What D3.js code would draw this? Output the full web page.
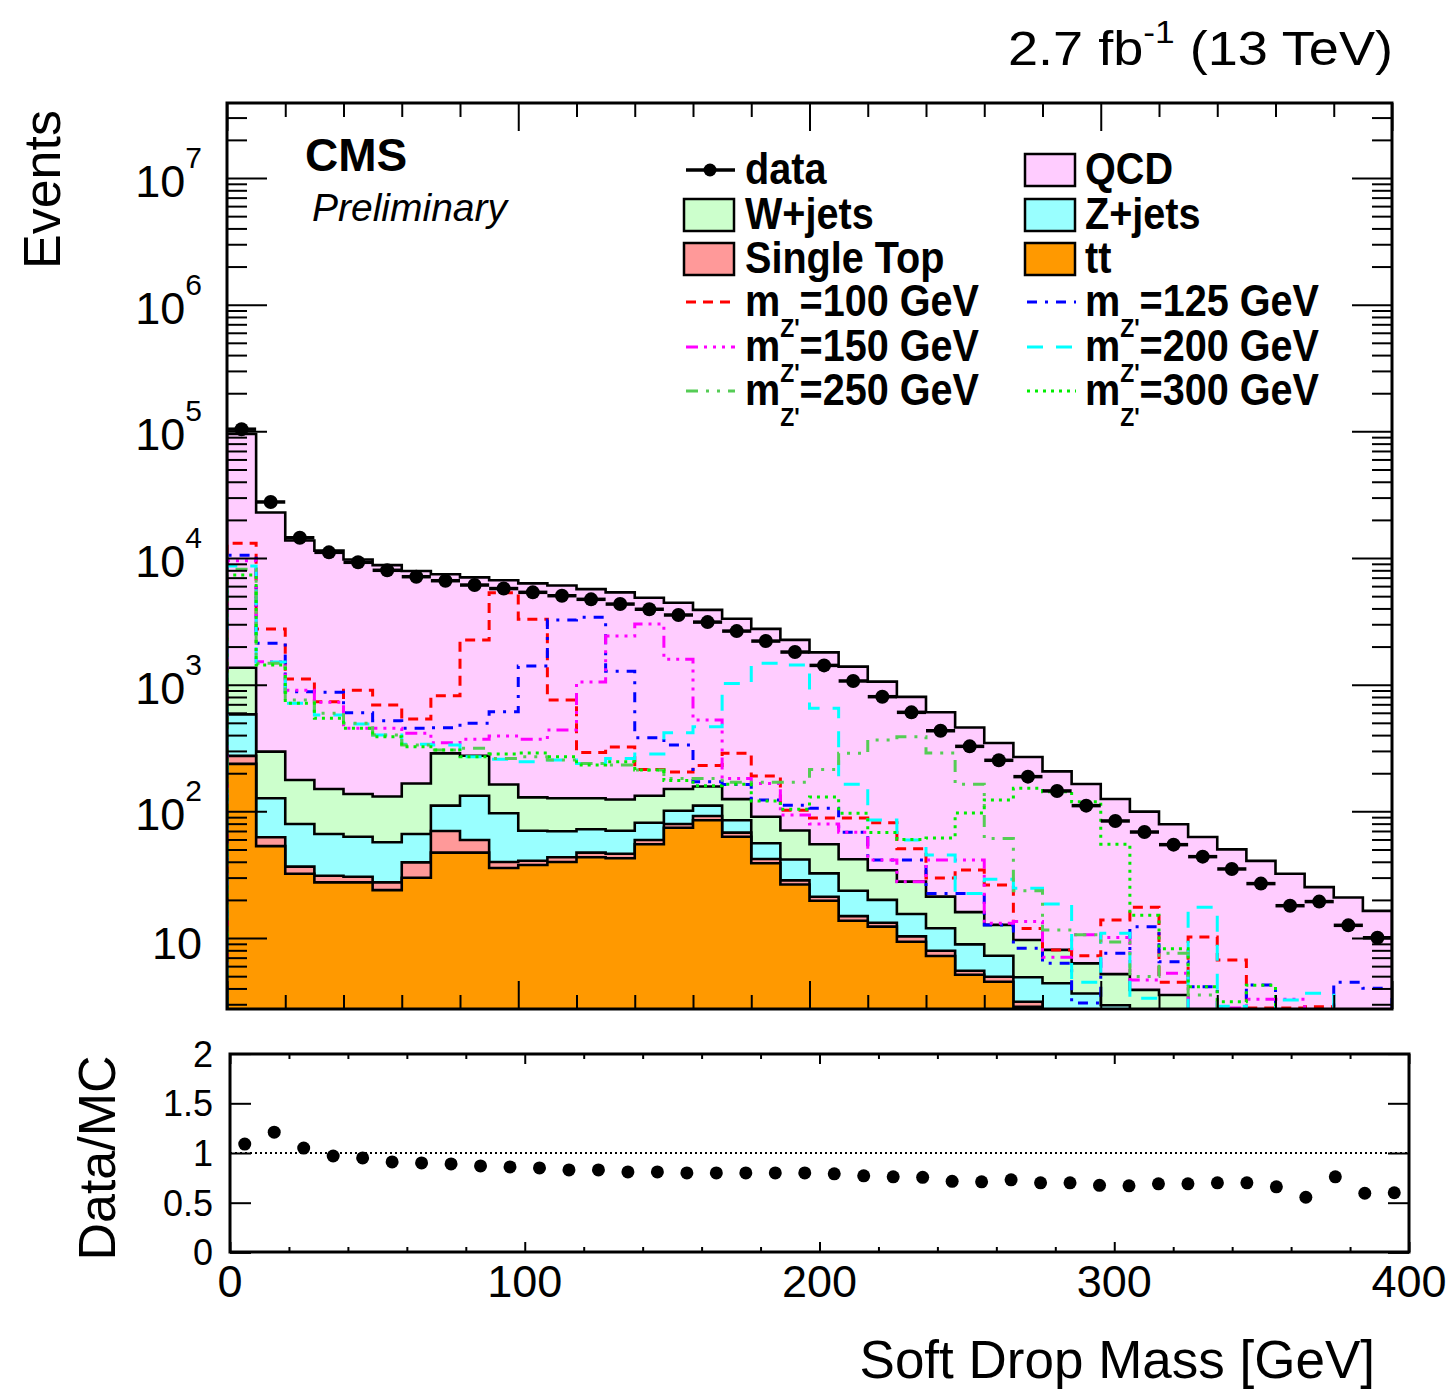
<!DOCTYPE html>
<html>
<head>
<meta charset="utf-8">
<script src="https://cdn.jsdelivr.net/npm/d3@7"></script>
<style>
  body { margin: 0; background: #fff; }
  text { font-family: "Liberation Sans", Arial, Helvetica, sans-serif; fill: #000; }
</style>
</head>
<body>
<div id="chart"></div>
<script>
// soft drop mass bins, lower edges [GeV]
var massBins = [0, 10, 20, 30, 40, 50, 60, 70, 80, 90, 100, 110, 120, 130, 140, 150, 160, 170, 180, 190,
  200, 210, 220, 230, 240, 250, 260, 270, 280, 290, 300, 310, 320, 330, 340, 350, 360, 370, 380, 390];
var binWidth = 10;

var dataCounts = [104000, 27700, 14450, 11090, 9250, 8000, 7120, 6620, 6120, 5740,
  5360, 5040, 4720, 4330, 3940, 3550, 3120, 2650, 2210, 1810,
  1420, 1070, 804, 605, 433, 326, 253, 188, 145, 111,
  84, 68.7, 54.6, 43.9, 35.1, 26.9, 18.0, 19.4, 12.6, 10.05];

var ratioValues = [1.09, 1.21, 1.05, 0.97, 0.95, 0.91, 0.90, 0.89, 0.87, 0.86,
  0.85, 0.83, 0.83, 0.81, 0.81, 0.80, 0.80, 0.80, 0.80, 0.80,
  0.79, 0.77, 0.76, 0.755, 0.715, 0.71, 0.73, 0.70, 0.70, 0.675,
  0.67, 0.69, 0.69, 0.70, 0.70, 0.66, 0.555, 0.76, 0.595, 0.60];

// backgrounds (per process, stacked below)
var ttbar = [237, 53.2, 32.2, 27.5, 27.5, 23.9, 29.9, 47.2, 47.2, 35.7,
  37.7, 39.8, 43.4, 42.6, 55.0, 74.3, 85.0, 63.1, 38.9, 26.5,
  19.7, 13.7, 12.3, 9.35, 7.21, 5.13, 4.52, 2.87, 1.6, 1.2,
  1.0, 0.8, 0.7, 0.6, 0.5, 0.4, 0.35, 0.3, 0.25, 0.2];
var singleTop = [37, 9.2, 4.4, 3.5, 3.0, 3.6, 9.7, 22.8, 12.2, 4.1,
  3.1, 3.6, 3.8, 3.7, 4.4, 5.2, 6.9, 4.8, 3.2, 2.0,
  1.5, 1.2, 0.9, 0.95, 0.73, 0.39, 0.43, 0.27, 0.2, 0.15,
  0.15, 0.1, 0.1, 0.1, 0.08, 0.08, 0.06, 0.05, 0.05, 0.05];
var zJets = [309, 64.6, 42.8, 35.2, 32.6, 29.5, 26.6, 41, 73.6, 56.8,
  29.6, 26.2, 25.0, 24.1, 22.0, 21.5, 19.1, 17.1, 13.9, 13.2,
  11.2, 8.7, 6.8, 5.2, 4.0, 3.4, 2.3, 1.76, 2.6, 2.3,
  1.8, 1.5, 1.4, 1.2, 1.1, 1.0, 0.9, 0.8, 0.7, 0.6];
var wJets = [778, 169, 97.6, 83.8, 73.9, 74, 99.8, 176, 142, 66.4,
  58.6, 57.4, 54.8, 53.6, 51.6, 49, 46, 40, 34.8, 29,
  22.6, 18.3, 14.3, 12.4, 9.3, 7.1, 5.45, 4.75, 3.66, 2.66,
  2.24, 1.5, 1.35, 0.6, 0.8, 0.9, 1.0, 1.1, 1.2, 1.3];
var qcd = [94040, 22600, 13580, 11280, 9600, 8660, 7740, 7150, 6760, 6510,
  6180, 5940, 5560, 5230, 4730, 4290, 3740, 3190, 2670, 2190,
  1745, 1348, 1024, 773, 585, 443, 334, 259, 199, 158,
  120, 95.7, 75.5, 60.2, 47.6, 38.3, 29.9, 23.0, 18.7, 14.25];

// Z' signals
var sig100 = [13060, 2754, 1109, 734, 903, 692, 536, 819, 2254, 5320,
  3283, 757, 292, 322, 214, 205, 230, 287, 190, 102,
  88.7, 88.7, 81.4, 50.7, 29.8, 34.4, 26.2, 11.9, 8.05, 7.25,
  13.9, 17.5, 4.47, 10.2, 6.71, 2.8, 2.8, 2.87, 1.5, 1.5];
var sig125 = [10510, 2122, 880, 871, 601, 520, 453, 458, 496, 612,
  1405, 3243, 3404, 1276, 382, 334, 171, 163, 123, 112,
  106, 68.4, 41.3, 41.3, 22.5, 22.5, 12.7, 8.3, 6.32, 3.07,
  7.57, 12.3, 6.5, 4.13, 2.5, 4.26, 2.6, 2.7, 4.47, 4.01];
var sig150 = [9530, 1520, 903, 726, 453, 453, 413, 348, 371, 394,
  371, 439, 1050, 2423, 3013, 1586, 527, 182, 166, 93.6,
  79.5, 68.4, 41.3, 27.8, 41.3, 41.3, 13.1, 13.5, 7.05, 10.6,
  10.1, 4.66, 5.27, 2.0, 2.8, 3.28, 3.28, 2.0, 2.0, 2.0];
var sig200 = [8650, 1510, 713, 577, 490, 401, 338, 334, 270, 258,
  247, 254, 239, 262, 284, 418, 466, 1022, 1476, 1430,
  651, 164, 85.5, 59.4, 45.2, 22.5, 29.1, 24.7, 18.6, 4.47,
  10.9, 3.34, 2.0, 17.5, 2.9, 2.0, 3.24, 3.66, 2.0, 2.0];
var sig250 = [8150, 1476, 757, 595, 496, 401, 334, 305, 315, 262,
  270, 254, 239, 232, 212, 182, 182, 170, 170, 170,
  214, 287, 366, 388, 289, 164, 61, 23.6, 11.6, 10.6,
  9.3, 4.97, 7.57, 3.55, 2.0, 2.0, 2.0, 2.0, 2.0, 2.0];
var sig300 = [7350, 1430, 713, 543, 453, 388, 324, 305, 270, 284,
  289, 270, 232, 247, 212, 175, 159, 164, 121, 104,
  130, 96.5, 68.1, 60.0, 61.6, 97.1, 123, 152, 143, 119,
  55.1, 15.1, 8.24, 4.13, 3.14, 4.24, 2.0, 2.0, 2.0, 2.0];

var mainTicks = [10, 100, 1000, 10000, 100000, 1000000, 10000000];
var mainTickExp = ["", "2", "3", "4", "5", "6", "7"];
var ratioTicks = [0, 0.5, 1, 1.5, 2];
var ratioTickLabels = ["0", "0.5", "1", "1.5", "2"];
var xTicks = [0, 100, 200, 300, 400];

var svgWidth = 1452;
var svgHeight = 1390;

var pad = { left: 227, right: 1392, top: 103, bottom: 1009 };
var rpad = { left: 230, right: 1409, top: 1054, bottom: 1252 };

var svg = d3.select("#chart")
  .append("svg")
  .attr("width", svgWidth)
  .attr("height", svgHeight);

svg.append("defs").append("clipPath")
  .attr("id", "clipMain")
  .append("rect")
  .attr("x", pad.left).attr("y", pad.top)
  .attr("width", pad.right - pad.left).attr("height", pad.bottom - pad.top);

var x = d3.scaleLinear().domain([0, 400]).range([pad.left, pad.right]);
var y = d3.scaleLog().domain([2.753, 3.91e7]).range([pad.bottom, pad.top]);
var xr = d3.scaleLinear().domain([0, 400]).range([rpad.left, rpad.right]);
var yr = d3.scaleLinear().domain([0, 2]).range([1252.4, 1053.6]);

var floorVal = 1.0;
function yc(v) { return y(Math.max(v, floorVal)); }

// histogram step outline from bottom, through the bins, back to bottom
var stepLine = d3.line()
  .x(d => x(d[0]))
  .y(d => yc(d[1]))
  .curve(d3.curveStepAfter);

function histPoints(vals) {
  var pts = [[massBins[0], floorVal]];
  vals.forEach(function (v, i) { pts.push([massBins[i], v]); });
  pts.push([massBins[massBins.length - 1] + binWidth, vals[vals.length - 1]]);
  pts.push([massBins[massBins.length - 1] + binWidth, floorVal]);
  return pts;
}

// Stack backgrounds
var rows = massBins.map(function (m, i) {
  return { tt: ttbar[i], st: singleTop[i], z: zJets[i], w: wJets[i], qcd: qcd[i] };
});
var stackKeys = ["tt", "st", "z", "w", "qcd"];
var stackColors = { tt: "#ff9900", st: "#ff9999", z: "#99ffff", w: "#ccffcc", qcd: "#ffccff" };
var layers = d3.stack().keys(stackKeys)(rows);

var plot = svg.append("g").attr("clip-path", "url(#clipMain)");

// draw from the top of the stack down so each fill sits on the previous
layers.slice().reverse().forEach(function (layer) {
  var tops = layer.map(d => d[1]);
  plot.append("path")
    .attr("d", stepLine(histPoints(tops)) + "Z")
    .attr("fill", stackColors[layer.key])
    .attr("stroke", "#000")
    .attr("stroke-width", 2.6)
    .attr("stroke-linejoin", "miter");
});

// signals
var signals = [
  { vals: sig100, color: "#ff0000", dash: "10,7", label: "=100 GeV" },
  { vals: sig125, color: "#0000ff", dash: "10,8,3,8", label: "=125 GeV" },
  { vals: sig150, color: "#ff00ff", dash: "12,6,3,6,3,6,3,6", label: "=150 GeV" },
  { vals: sig200, color: "#00ffff", dash: "16,13", label: "=200 GeV" },
  { vals: sig250, color: "#55cc55", dash: "12,8,3,8,3,8", label: "=250 GeV" },
  { vals: sig300, color: "#00ee00", dash: "3,5", label: "=300 GeV" }
];

signals.forEach(function (s) {
  plot.append("path")
    .attr("d", stepLine(histPoints(s.vals)))
    .attr("fill", "none")
    .attr("stroke", s.color)
    .attr("stroke-width", 3)
    .attr("stroke-dasharray", s.dash);
});

// data points
var dataG = svg.append("g").attr("clip-path", "url(#clipMain)");
dataG.selectAll("line.xerr")
  .data(dataCounts)
  .enter()
  .append("line")
  .attr("x1", (d, i) => x(massBins[i]))
  .attr("x2", (d, i) => x(massBins[i] + binWidth))
  .attr("y1", d => y(d))
  .attr("y2", d => y(d))
  .attr("stroke", "#000")
  .attr("stroke-width", 3.5);
dataG.selectAll("circle")
  .data(dataCounts)
  .enter()
  .append("circle")
  .attr("cx", (d, i) => x(massBins[i] + binWidth / 2))
  .attr("cy", d => y(d))
  .attr("r", 7)
  .attr("fill", "#000");

// main frame + ticks
function noDomain(g) { g.select(".domain").remove(); g.selectAll("line").attr("stroke-width", 2); }

var minorY = [];
for (var e = 0; e <= 7; e++) {
  for (var k = 2; k <= 9; k++) {
    var v = k * Math.pow(10, e);
    if (v >= 2.753 && v <= 3.91e7) minorY.push(v);
  }
}
svg.append("g").attr("transform", `translate(${pad.left},0)`)
  .call(d3.axisRight(y).tickValues(mainTicks).tickSize(40).tickFormat("")).call(noDomain);
svg.append("g").attr("transform", `translate(${pad.left},0)`)
  .call(d3.axisRight(y).tickValues(minorY).tickSize(20).tickFormat("")).call(noDomain);
svg.append("g").attr("transform", `translate(${pad.right},0)`)
  .call(d3.axisLeft(y).tickValues(mainTicks).tickSize(40).tickFormat("")).call(noDomain);
svg.append("g").attr("transform", `translate(${pad.right},0)`)
  .call(d3.axisLeft(y).tickValues(minorY).tickSize(20).tickFormat("")).call(noDomain);

var minorX = [20, 40, 60, 80, 120, 140, 160, 180, 220, 240, 260, 280, 320, 340, 360, 380];
svg.append("g").attr("transform", `translate(0,${pad.bottom})`)
  .call(d3.axisTop(x).tickValues(xTicks).tickSize(28).tickFormat("")).call(noDomain);
svg.append("g").attr("transform", `translate(0,${pad.bottom})`)
  .call(d3.axisTop(x).tickValues(minorX).tickSize(14).tickFormat("")).call(noDomain);
svg.append("g").attr("transform", `translate(0,${pad.top})`)
  .call(d3.axisBottom(x).tickValues(xTicks).tickSize(28).tickFormat("")).call(noDomain);
svg.append("g").attr("transform", `translate(0,${pad.top})`)
  .call(d3.axisBottom(x).tickValues(minorX).tickSize(14).tickFormat("")).call(noDomain);

svg.append("rect")
  .attr("x", pad.left).attr("y", pad.top)
  .attr("width", pad.right - pad.left).attr("height", pad.bottom - pad.top)
  .attr("fill", "none").attr("stroke", "#000").attr("stroke-width", 3);

// y labels main
mainTicks.forEach(function (t, i) {
  var lab = svg.append("text")
    .attr("x", 202)
    .attr("y", y(t) + (mainTickExp[i] ? 19 : 21))
    .attr("text-anchor", "end")
    .attr("font-size", 45);
  lab.append("tspan").text("10");
  if (mainTickExp[i]) {
    lab.append("tspan").attr("dy", -29).attr("font-size", 30).text(mainTickExp[i]);
  }
});

svg.append("text")
  .attr("transform", "translate(60,110) rotate(-90)")
  .attr("text-anchor", "end")
  .attr("font-size", 52)
  .text("Events");

// ratio panel
var rg = svg.append("g");
rg.append("line")
  .attr("x1", rpad.left).attr("x2", rpad.right)
  .attr("y1", yr(1)).attr("y2", yr(1))
  .attr("stroke", "#000").attr("stroke-width", 2).attr("stroke-dasharray", "2,3");
rg.selectAll("circle")
  .data(ratioValues)
  .enter()
  .append("circle")
  .attr("cx", (d, i) => xr(massBins[i] + binWidth / 2))
  .attr("cy", d => yr(d))
  .attr("r", 6.5)
  .attr("fill", "#000");

svg.append("g").attr("transform", `translate(${rpad.left},0)`)
  .call(d3.axisRight(yr).tickValues(ratioTicks).tickSize(21).tickFormat("")).call(noDomain);
svg.append("g").attr("transform", `translate(${rpad.right},0)`)
  .call(d3.axisLeft(yr).tickValues(ratioTicks).tickSize(21).tickFormat("")).call(noDomain);
svg.append("g").attr("transform", `translate(0,${rpad.bottom})`)
  .call(d3.axisTop(xr).tickValues(xTicks).tickSize(10).tickFormat("")).call(noDomain);
svg.append("g").attr("transform", `translate(0,${rpad.bottom})`)
  .call(d3.axisTop(xr).tickValues(minorX).tickSize(5).tickFormat("")).call(noDomain);
svg.append("g").attr("transform", `translate(0,${rpad.top})`)
  .call(d3.axisBottom(xr).tickValues(xTicks).tickSize(10).tickFormat("")).call(noDomain);
svg.append("g").attr("transform", `translate(0,${rpad.top})`)
  .call(d3.axisBottom(xr).tickValues(minorX).tickSize(5).tickFormat("")).call(noDomain);

svg.append("rect")
  .attr("x", rpad.left).attr("y", rpad.top)
  .attr("width", rpad.right - rpad.left).attr("height", rpad.bottom - rpad.top)
  .attr("fill", "none").attr("stroke", "#000").attr("stroke-width", 3);

ratioTicks.forEach(function (t, i) {
  svg.append("text")
    .attr("x", 213)
    .attr("y", yr(t) + 13)
    .attr("text-anchor", "end")
    .attr("font-size", 36)
    .text(ratioTickLabels[i]);
});

xTicks.forEach(function (t) {
  svg.append("text")
    .attr("x", xr(t))
    .attr("y", 1297)
    .attr("text-anchor", "middle")
    .attr("font-size", 45)
    .text(t);
});

svg.append("text")
  .attr("transform", "translate(115,1158) rotate(-90)")
  .attr("text-anchor", "middle")
  .attr("font-size", 52)
  .text("Data/MC");

svg.append("text")
  .attr("x", 1375).attr("y", 1378)
  .attr("text-anchor", "end")
  .attr("font-size", 53)
  .text("Soft Drop Mass [GeV]");

// header texts
var lumi = svg.append("text")
  .attr("x", 1393).attr("y", 65)
  .attr("text-anchor", "end")
  .attr("font-size", 49)
  .attr("textLength", 385)
  .attr("lengthAdjust", "spacingAndGlyphs");
lumi.append("tspan").text("2.7 fb");
lumi.append("tspan").attr("dy", -22).attr("font-size", 32).text("-1");
lumi.append("tspan").attr("dy", 22).text(" (13 TeV)");

svg.append("text")
  .attr("x", 305).attr("y", 171)
  .attr("font-size", 46).attr("font-weight", "bold")
  .text("CMS");
svg.append("text")
  .attr("x", 312).attr("y", 221)
  .attr("font-size", 39).attr("font-style", "italic")
  .text("Preliminary");

// legend
var rowY = [170, 215, 259, 302, 347, 391];
var colBox = [684, 1025];
var colText = [745, 1085];
var legend = svg.append("g");

function legendText(col, row, parts) {
  var t = legend.append("text")
    .attr("transform", `translate(${colText[col]},${rowY[row] + 14}) scale(0.88,1)`)
    .attr("font-size", 45)
    .attr("font-weight", "bold");
  parts(t);
}
function legendBox(col, row, color) {
  legend.append("rect")
    .attr("x", colBox[col]).attr("y", rowY[row] - 16)
    .attr("width", 50).attr("height", 32)
    .attr("fill", color).attr("stroke", "#000").attr("stroke-width", 2.5);
}

// data entry
legend.append("line")
  .attr("x1", 686).attr("x2", 735).attr("y1", rowY[0]).attr("y2", rowY[0])
  .attr("stroke", "#000").attr("stroke-width", 3.5);
legend.append("circle").attr("cx", 710).attr("cy", rowY[0]).attr("r", 6.5).attr("fill", "#000");
legendText(0, 0, t => t.text("data"));

legendBox(1, 0, stackColors.qcd);
legendText(1, 0, t => t.text("QCD"));
legendBox(0, 1, stackColors.w);
legendText(0, 1, t => t.text("W+jets"));
legendBox(1, 1, stackColors.z);
legendText(1, 1, t => t.text("Z+jets"));
legendBox(0, 2, stackColors.st);
legendText(0, 2, t => t.text("Single Top"));
legendBox(1, 2, stackColors.tt);
legendText(1, 2, t => t.text("tt"));

signals.forEach(function (s, i) {
  var col = i % 2;
  var row = 3 + Math.floor(i / 2);
  legend.append("line")
    .attr("x1", colBox[col] + 2).attr("x2", colBox[col] + 51)
    .attr("y1", rowY[row]).attr("y2", rowY[row])
    .attr("stroke", s.color).attr("stroke-width", 3)
    .attr("stroke-dasharray", s.dash);
  legendText(col, row, function (t) {
    t.append("tspan").text("m");
    t.append("tspan").attr("dy", 21).attr("font-size", 26).text("Z'");
    t.append("tspan").attr("dy", -21).text(s.label);
  });
});
</script>
</body>
</html>
